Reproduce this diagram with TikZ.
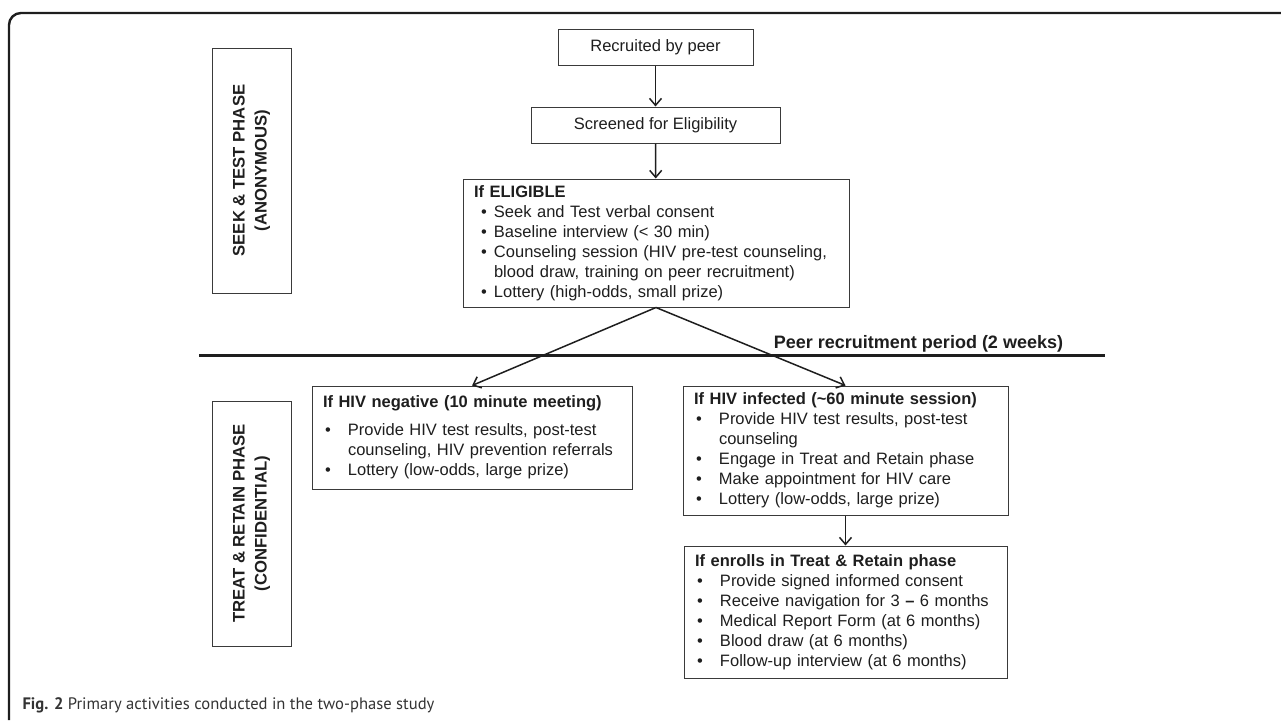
\documentclass[tikz,border=0pt]{standalone}
\usepackage{fontspec}
\setmainfont{Liberation Sans}
\newfontfamily\capfont{PT Sans}
\usepackage{tikz}
\usetikzlibrary{arrows.meta}
\definecolor{ink}{HTML}{1E1E1E}
\definecolor{boxline}{HTML}{3A3A3A}
\definecolor{capgray}{HTML}{333333}
\newcommand{\itm}[3]{\hspace*{#1}\makebox[#2][l]{\textbullet}#3}
\newcommand{\cnt}[2]{\hspace*{#1}#2}

\begin{document}
\begin{tikzpicture}[
    x=1pt, y=-1pt,
    font=\fontsize{16.5}{20}\selectfont, text=ink,
    plainbox/.style={draw=boxline, line width=1pt, align=center, inner sep=0pt},
    listbox/.style={draw=boxline, line width=1pt, align=left,
        inner xsep=11pt, inner ysep=0pt},
    phasebox/.style={draw=boxline, line width=1pt, rotate=90, align=center,
        font=\fontsize{16.7}{22}\selectfont\bfseries,
        minimum width=245pt, minimum height=79pt},
    flow/.style={-{Straight Barb[length=7pt,width=12pt]}, line width=1.5pt, draw=ink}
]
\useasboundingbox (0,0) rectangle (1281,720);
\draw[ink, line width=2.4pt, rounded corners=12pt] (9,720) -- (9,13) -- (1281,13);

\node[phasebox] (seek) at (251.5,170.5)
    {SEEK \& TEST PHASE\\(ANONYMOUS)};
\node[phasebox] (treat) at (251.5,523.5)
    {TREAT \& RETAIN PHASE\\(CONFIDENTIAL)};

\node[plainbox, minimum width=195pt, minimum height=36pt] (recruit) at (655.5,47)
    {Recruited by peer};
\node[plainbox, minimum width=249pt, minimum height=36pt] (screen) at (655.5,125)
    {Screened for Eligibility};
\node[listbox, text width=364pt, minimum height=128pt] (elig) at (656,243)
    {\textbf{If ELIGIBLE}\\
     \itm{7pt}{13pt}{Seek and Test verbal consent}\\
     \itm{7pt}{13pt}{Baseline interview (< 30 min)}\\
     \itm{7pt}{13pt}{Counseling session (HIV pre-test counseling,}\\
     \cnt{20pt}{blood draw, training on peer recruitment)}\\
     \itm{7pt}{13pt}{Lottery (high-odds, small prize)}};

\coordinate (divl) at (199,355);
\coordinate (divr) at (1105,355);
\draw[ink, line width=3pt] (divl) -- (divr);
\node[font=\fontsize{18}{20}\selectfont\bfseries] (period) at (918.5,344)
    {Peer recruitment period (2 weeks)};

\node[listbox, text width=298pt, minimum height=103pt] (neg) at (472,437.5)
    {\textbf{If HIV negative (10 minute meeting)}\\[8pt]
     \itm{2pt}{23pt}{Provide HIV test results, post-test}\\
     \cnt{25pt}{counseling, HIV prevention referrals}\\
     \itm{2pt}{23pt}{Lottery (low-odds, large prize)}};
\node[listbox, text width=303pt, minimum height=129pt] (infect) at (845.5,450.5)
    {\textbf{If HIV infected (\textasciitilde 60 minute session)}\\
     \itm{2pt}{23pt}{Provide HIV test results, post-test}\\
     \cnt{25pt}{counseling}\\
     \itm{2pt}{23pt}{Engage in Treat and Retain phase}\\
     \itm{2pt}{23pt}{Make appointment for HIV care}\\
     \itm{2pt}{23pt}{Lottery (low-odds, large prize)}};
\node[listbox, text width=301pt, minimum height=132pt] (enroll) at (845.5,612)
    {\textbf{If enrolls in Treat \& Retain phase}\\
     \itm{2pt}{23pt}{Provide signed informed consent}\\
     \itm{2pt}{23pt}{Receive navigation for 3 \textbf{--} 6 months}\\
     \itm{2pt}{23pt}{Medical Report Form (at 6 months)}\\
     \itm{2pt}{23pt}{Blood draw (at 6 months)}\\
     \itm{2pt}{23pt}{Follow-up interview (at 6 months)}};

\node[anchor=west, text=capgray, font=\capfont\fontsize{16.6}{20}\selectfont]
    (caption) at (19,705)
    {\textbf{Fig. 2} Primary activities conducted in the two-phase study};

\draw[flow] (recruit) -- (screen);
\draw[flow] (screen) -- (elig);
\draw[flow] (elig.south) -- (neg.north);
\draw[flow] (elig.south) -- (infect.north);
\draw[flow] (infect) -- (enroll);
\end{tikzpicture}
\end{document}
